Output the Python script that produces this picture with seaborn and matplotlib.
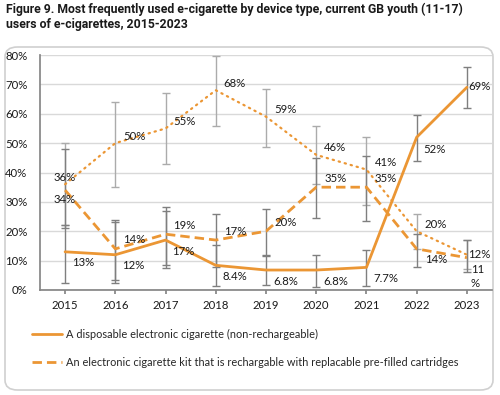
import numpy as np
import pandas as pd
import matplotlib
matplotlib.use("Agg")
import matplotlib.pyplot as plt
import seaborn as sns
from matplotlib.patches import FancyBboxPatch
from matplotlib.ticker import PercentFormatter

# data
years = [2015, 2016, 2017, 2018, 2019, 2020, 2021, 2022, 2023]

disposable = [13, 12, 17, 8.4, 6.8, 6.8, 7.7, 52, 69]
disposable_lo = [2.5, 2.4, 7.5, 1.4, 1.7, 1.0, 1.5, 44, 62]
disposable_hi = [22, 23, 27, 15.3, 11.6, 12, 13.6, 59.5, 76]

kit = [34, 14, 19, 17, 20, 35, 35, 14, 11]
kit_lo = [21, 3.4, 8.5, 8, 12, 24.5, 23.5, 7.8, 6.1]
kit_hi = [48, 24, 28.2, 26, 27.6, 45, 45.6, 19, 17]

refillable = [36, 50, 55, 68, 59, 46, 41, 20, 12]
refillable_lo = [22, 35, 43, 56, 48.6, 36, 29, 14, 7]
refillable_hi = [50, 64, 67, 79.6, 68.4, 56, 52, 26, 17]

series_names = [
    "A disposable electronic cigarette (non-rechargeable)",
    "An electronic cigarette kit that is rechargable with replacable pre-filled cartridges",
    "_refillable",
]

ORANGE = "#EB9634"
DARK_GREY = "#7F7F7F"
LIGHT_GREY = "#ABABAB"
FS = 8.2

sns.set_theme(style="white")
plt.rcParams['font.family'] = ['Lato', 'DejaVu Sans']

fig = plt.figure(figsize=(5, 3.95), dpi=100)

# rounded frame around the chart
frame = FancyBboxPatch((5 / 500, 5 / 395), 488 / 500, 343 / 395,
                       boxstyle="round,pad=0,rounding_size=0.025",
                       transform=fig.transFigure, facecolor="none",
                       edgecolor="#D0D0D0", linewidth=1.2, zorder=-10)
fig.patches.append(frame)

fig.text(6 / 500, 1 - 3 / 395,
         "Figure 9. Most frequently used e-cigarette by device type, current GB youth (11-17)\n"
         "users of e-cigarettes, 2015-2023",
         ha="left", va="top", fontsize=8.8, fontweight="bold",
         family=["Roboto", "DejaVu Sans"], color="#1a1a1a", linespacing=1.15)

ax = fig.add_axes([40 / 500, 1 - 290 / 395, 452 / 500, 235 / 395])
ax.set_facecolor("none")

df = pd.DataFrame({
    "year": years * 3,
    "value": disposable + kit + refillable,
    "series": [series_names[0]] * 9 + [series_names[1]] * 9 + [series_names[2]] * 9,
})

# error bars (drawn first, behind the lines)
for vals, lo, hi, col in [(refillable, refillable_lo, refillable_hi, LIGHT_GREY),
                          (kit, kit_lo, kit_hi, DARK_GREY),
                          (disposable, disposable_lo, disposable_hi, DARK_GREY)]:
    v = np.array(vals)
    err = [v - np.array(lo), np.array(hi) - v]
    ax.errorbar(years, v, yerr=err, fmt="none", ecolor=col, elinewidth=1.0,
                capsize=2.8, capthick=1.0, zorder=2)

sns.lineplot(data=df[df.series == series_names[0]], x="year", y="value",
             color=ORANGE, lw=2.0, ax=ax, label=series_names[0], zorder=3)
sns.lineplot(data=df[df.series == series_names[1]], x="year", y="value",
             color=ORANGE, lw=2.0, ax=ax, label=series_names[1], zorder=3,
             linestyle=(0, (3.4, 1.8)))
sns.lineplot(data=df[df.series == series_names[2]], x="year", y="value",
             color=ORANGE, lw=1.6, ax=ax, label=series_names[2], zorder=3,
             linestyle=(0, (0.6, 2.2)), dash_capstyle="round")


# data labels, offsets in pixels (dx right, dy down)
def put_labels(vals, offs, texts=None):
    for i, (yr, v) in enumerate(zip(years, vals)):
        dx, dy, ha = offs[i]
        t = texts[i] if texts else f"{v:g}%"
        ax.annotate(t, (yr, v), xytext=(dx * 0.72, -dy * 0.72),
                    textcoords="offset points", ha=ha, va="center",
                    fontsize=FS, color="#1a1a1a", zorder=4, linespacing=1.3)


put_labels(disposable, [(7, 11, "left")] * 7 + [(7, 12, "left"), (1, -1, "left")])
put_labels(kit, [(-1, 9, "center")] + [(8, -9, "left")] * 6 + [(8, 11, "left"), (4, 19, "left")],
           texts=[f"{v:g}%" for v in kit[:-1]] + ["11\n%"])
put_labels(refillable, [(0, -7, "center")] + [(8, -7, "left")] * 7 + [(1, 0, "left")])

ax.set_xlim(2014.5, 2023.5)
ax.set_ylim(0, 80)
ax.set_xticks(years)
ax.set_xticklabels([str(y) for y in years])
ax.set_yticks(np.arange(0, 81, 10))
ax.yaxis.set_major_formatter(PercentFormatter(decimals=0))
ax.grid(axis="y", color="#D9D9D9", lw=1.0)
ax.set_axisbelow(True)
ax.set_xlabel("")
ax.set_ylabel("")
for s in ["top", "right"]:
    ax.spines[s].set_visible(False)
ax.spines["left"].set_color("#868686")
ax.spines["bottom"].set_color("#868686")
ax.tick_params(axis="x", length=3, color="#868686", labelsize=FS, pad=4, bottom=True)
ax.tick_params(axis="y", length=0, labelsize=FS, pad=9)
for lab in ax.get_xticklabels() + ax.get_yticklabels():
    lab.set_color("#1a1a1a")

handles, labels = ax.get_legend_handles_labels()
keep = [(h, l) for h, l in zip(handles, labels) if not l.startswith("_")]
ax.legend([h for h, _ in keep], [l for _, l in keep],
          loc="upper left", bbox_to_anchor=(22 / 500, 1 - 319 / 395),
          bbox_transform=fig.transFigure, frameon=False, fontsize=7.9,
          handlelength=2.75, handletextpad=0.4, labelspacing=1.55)

fig.savefig("out.png", dpi=100)
